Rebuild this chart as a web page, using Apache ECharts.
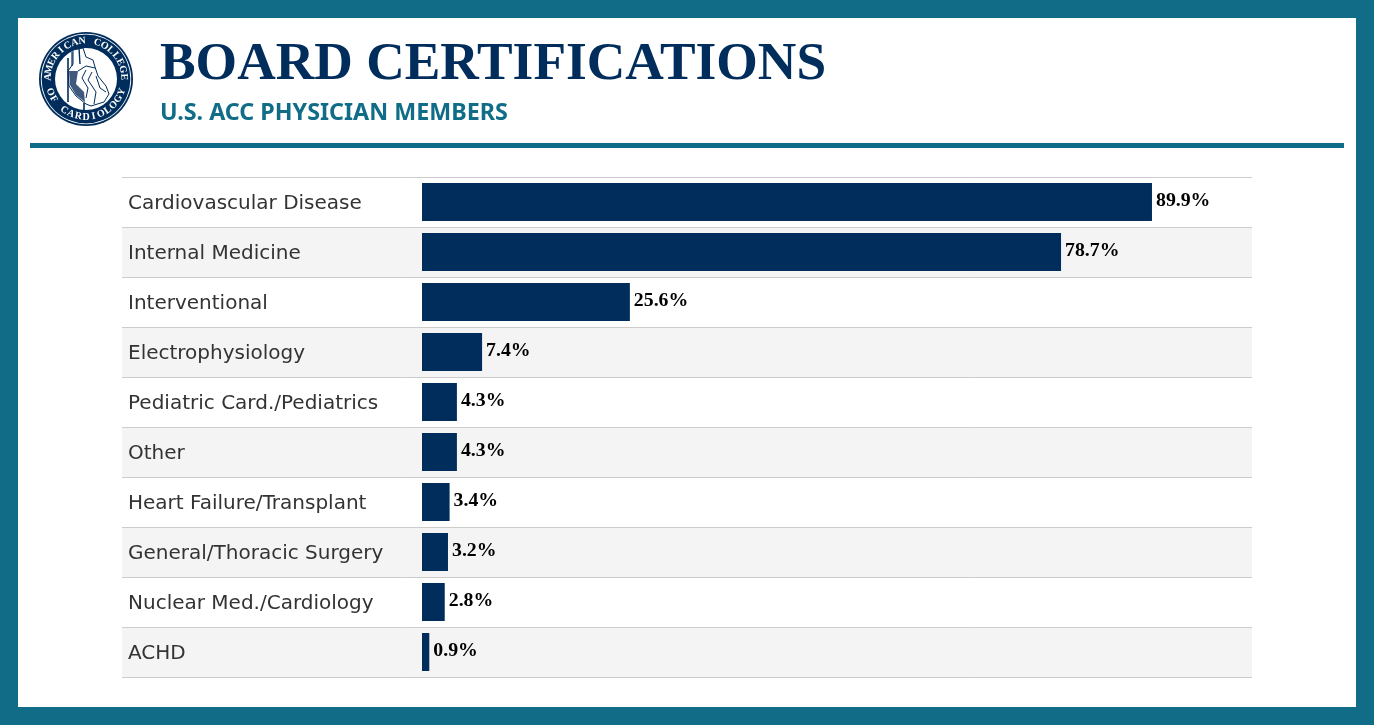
<!DOCTYPE html>
<html><head><meta charset="utf-8">
<style>html,body{margin:0;padding:0;background:#116c87}#c{width:1374px;height:725px}</style>
<script src="https://cdn.jsdelivr.net/npm/echarts@6/dist/echarts.min.js"></script>
</head><body><div id="c"></div>
<script>
const categories = ["Cardiovascular Disease","Internal Medicine","Interventional","Electrophysiology","Pediatric Card./Pediatrics","Other","Heart Failure/Transplant","General/Thoracic Surgery","Nuclear Med./Cardiology","ACHD"];
const shares = [89.9,78.7,25.6,7.4,4.3,4.3,3.4,3.2,2.8,0.9];
const titleText = "BOARD CERTIFICATIONS";
const subtitleText = "U.S. ACC PHYSICIAN MEMBERS";
const sealTop = "AMERICAN COLLEGE";
const sealBottom = "OF CARDIOLOGY";

const NAVY="#002d5b", TEAL="#116c87";
const cx=86, cy=79;
function arcText(str,r,startDeg,stepDeg,bottom){
  return str.split('').map((ch,i)=>{
    const a=(startDeg+i*stepDeg)*Math.PI/180;
    const x=cx+r*Math.sin(a), y=cy-r*Math.cos(a);
    return {type:'text',x,y,rotation:bottom?-(a-Math.PI):-a,z:12,
      style:{text:ch,fill:'#fff',font:'bold 10px "Liberation Serif"',align:'center',verticalAlign:'middle'}};
  });
}
function line(points,width){return {type:'polyline',z:13,shape:{points},style:{fill:'none',stroke:NAVY,lineWidth:width}};}
const seal=[
 {type:'circle',shape:{cx,cy,r:47},style:{fill:NAVY},z:10},
 {type:'circle',shape:{cx,cy,r:45.2},style:{fill:'#fff'},z:10},
 {type:'circle',shape:{cx,cy,r:44.4},style:{fill:NAVY},z:10},
 {type:'circle',shape:{cx,cy,r:31},style:{fill:'#fff'},z:11},
 ...arcText(sealTop,38,-87,11.6,false),
 ...arcText(sealBottom,38,250,-11.67,true),
 {type:'polygon',z:12,shape:{points:[[73,50],[83,48],[86,57],[93,60],[95,67],[98,76],[106,86],[109,94],[104,102],[91,106],[86,104],[76,96],[69,86],[68,71],[73,64]]},style:{fill:'#fff',stroke:NAVY,lineWidth:1}},
 {type:'polygon',z:13,shape:{points:[[69,71],[78,71],[76,84],[84,92],[85,102],[76,95],[70,85]]},style:{fill:'#41597c'}},
 line([[78,71],[86,66],[95,68]],1),
 line([[86,70],[82,78],[88,88],[86,98]],1),
 line([[92,72],[88,80],[96,92],[94,104]],1),
 line([[96,76],[100,88],[106,92]],1),
 line([[68,58],[68,102]],1.6),
 line([[72,52],[72,66]],1.2),
 line([[79,48],[80,64]],1.4),
 line([[84,103],[84,110]],1.6)
];

const chart=echarts.init(document.getElementById('c'),null,{renderer:'canvas'});
chart.setOption({
 animation:false,
 backgroundColor:'#fff',
 title:[
  {text:titleText,left:160,top:39,padding:0,textStyle:{fontFamily:'"Liberation Serif"',fontWeight:'bold',fontSize:53.4,color:NAVY}},
  {text:subtitleText,left:160,top:102,padding:0,textStyle:{fontFamily:'"Noto Sans"',fontWeight:'bold',fontSize:23.3,color:TEAL}}
 ],
 grid:{left:122,top:177,width:1130,height:500,containLabel:false},
 xAxis:{type:'value',min:-36.946,max:102.217,show:false},
 yAxis:{type:'category',inverse:true,data:categories,
  axisLine:{show:false,onZero:false},axisTick:{show:false},
  axisLabel:{inside:true,margin:6,color:'#333',fontFamily:'"DejaVu Sans"',fontSize:20,align:'left',verticalAlign:'top',lineHeight:4},
  splitLine:{show:true,lineStyle:{color:'#cccccc',width:1}},
  splitArea:{show:true,areaStyle:{color:['#ffffff','#f4f4f4']}}
 },
 series:[{type:'bar',data:shares,barWidth:38,itemStyle:{color:NAVY},
  label:{show:true,position:'right',distance:4,offset:[0,-1],formatter:p=>p.value.toFixed(1)+'%',
   fontFamily:'"Liberation Serif"',fontWeight:'bold',fontSize:19.8,color:'#000'}}],
 graphic:[
  {type:'rect',shape:{x:0,y:0,width:1374,height:18},style:{fill:TEAL},z:5},
  {type:'rect',shape:{x:0,y:707,width:1374,height:18},style:{fill:TEAL},z:5},
  {type:'rect',shape:{x:0,y:0,width:18,height:725},style:{fill:TEAL},z:5},
  {type:'rect',shape:{x:1356,y:0,width:18,height:725},style:{fill:TEAL},z:5},
  {type:'rect',shape:{x:30,y:143,width:1314,height:5},style:{fill:TEAL},z:5},
  ...seal
 ]
});
</script></body></html>
